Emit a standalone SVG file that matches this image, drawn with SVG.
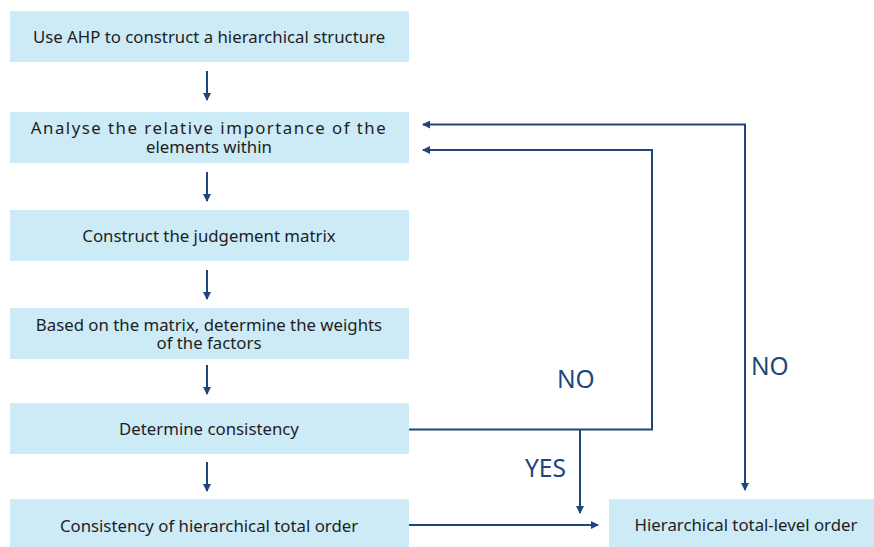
<svg xmlns="http://www.w3.org/2000/svg" width="874" height="547" viewBox="0 0 874 547">
<style>
.box{fill:#cdeaf7}
.t{font-family:"Noto Sans","Liberation Sans",sans-serif;font-size:16.8px;fill:#1e1e1e;text-anchor:middle}
.lbl{font-family:"Noto Sans","Liberation Sans",sans-serif;font-size:24.5px;fill:#1f467a}
.ln{fill:none;stroke:#1f467a;stroke-width:2}
</style>
<defs>
<marker id="ah" markerWidth="8" markerHeight="8" refX="7" refY="4" orient="auto" markerUnits="userSpaceOnUse">
<path d="M0,0 L8,4 L0,8 Z" fill="#1f467a"/>
</marker>
</defs>
<rect width="874" height="547" fill="#ffffff"/>
<g id="n1"><rect class="box" x="10" y="11" width="399" height="51"/><text class="t" x="209" y="43">Use AHP to construct a hierarchical structure</text></g>
<g id="n2"><rect class="box" x="10" y="112" width="399" height="51"/><text class="t" x="209" y="134" letter-spacing="1.5">Analyse the relative importance of the</text><text class="t" x="209" y="153">elements within</text></g>
<g id="n3"><rect class="box" x="10" y="210" width="399" height="51"/><text class="t" x="209" y="242">Construct the judgement matrix</text></g>
<g id="n4"><rect class="box" x="10" y="308" width="399" height="51"/><text class="t" x="209" y="331">Based on the matrix, determine the weights</text><text class="t" x="209" y="349">of the factors</text></g>
<g id="n5"><rect class="box" x="10" y="403" width="399" height="51"/><text class="t" x="209" y="435">Determine consistency</text></g>
<g id="n6"><rect class="box" x="10" y="499" width="399" height="48"/><text class="t" x="209" y="532">Consistency of hierarchical total order</text></g>
<g id="n7"><rect class="box" x="609" y="499" width="265" height="48"/><text class="t" x="746" y="531">Hierarchical total-level order</text></g>
<g id="connectors">
<line class="ln" x1="207" y1="71" x2="207" y2="100" marker-end="url(#ah)"/>
<line class="ln" x1="207" y1="172" x2="207" y2="201" marker-end="url(#ah)"/>
<line class="ln" x1="207" y1="270" x2="207" y2="299" marker-end="url(#ah)"/>
<line class="ln" x1="207" y1="365" x2="207" y2="394" marker-end="url(#ah)"/>
<line class="ln" x1="207" y1="462" x2="207" y2="491" marker-end="url(#ah)"/>
<polyline class="ln" points="409,429.5 652,429.5 652,150 423,150" marker-end="url(#ah)"/>
<polyline class="ln" points="745,490 745,124.5 423,124.5" marker-end="url(#ah)"/>
<line class="ln" x1="745" y1="300" x2="745" y2="490" marker-end="url(#ah)"/>
<line class="ln" x1="580" y1="429.5" x2="580" y2="513" marker-end="url(#ah)"/>
<line class="ln" x1="409" y1="525" x2="598" y2="525" marker-end="url(#ah)"/>
<text class="lbl" x="557" y="388">NO</text>
<text class="lbl" x="751" y="375">NO</text>
<text class="lbl" x="525" y="477">YES</text>
</g>
</svg>
